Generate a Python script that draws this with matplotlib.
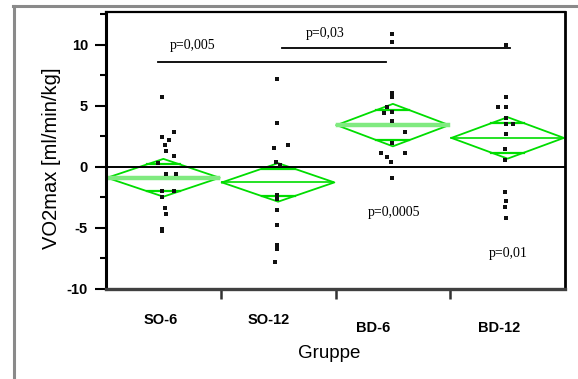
import numpy as np
import matplotlib
matplotlib.use('Agg')
from matplotlib import pyplot as plt
from matplotlib.lines import Line2D
import matplotlib.transforms as mtransforms

plt.rcParams['axes.unicode_minus'] = False

# groups and values
groups = ['SO-6', 'SO-12', 'BD-6', 'BD-12']

so6 = [5.7, 2.8, 2.4, 2.2, 1.8, 1.3, 0.9, 0.3, -0.6, -0.6, -2.0, -2.0, -2.5, -3.4, -3.9, -5.1, -5.3]
so6_jit = [0, 0.10, 0, 0.06, 0.02, 0.03, 0.10, -0.04, 0.03, 0.12, 0, 0.10, 0, 0.02, 0.03, 0, 0]
so12 = [7.2, 3.6, 1.8, 1.5, 0.4, 0.1, -2.3, -2.7, -3.6, -4.8, -6.4, -6.8, -7.8]
so12_jit = [0, 0, 0.10, -0.03, -0.01, 0.03, 0, 0, 0, 0, 0, 0, -0.02]
bd6 = [10.9, 10.2, 6.0, 5.7, 4.9, 4.5, 4.4, 3.7, 2.8, 1.9, 1.1, 1.1, 0.8, 0.4, -0.9]
bd6_jit = [0, 0, 0, 0, -0.04, 0, -0.07, 0, 0.12, 0, -0.09, 0.12, -0.04, -0.01, 0]
bd12 = [10.0, 5.7, 4.85, 4.85, 4.0, 3.5, 3.5, 2.7, 1.4, 0.5, -2.1, -2.8, -3.3, -4.2]
bd12_jit = [0, 0, -0.07, 0, 0, 0, 0.06, 0, -0.01, -0.01, -0.01, 0, -0.01, 0]

# means diamonds (mean and 95% CI half width)
means = [-0.92, -1.3, 3.4, 2.35]
ci_half = [1.55, 1.58, 1.74, 1.7]

# significance brackets: (x start, x end, level)
brackets = [(0.45, 2.44, 8.6), (1.53, 3.52, 9.7)]
p_labels = ['p=0,005', 'p=0,03', 'p=0,0005', 'p=0,01']

data = [so6, so12, bd6, bd12]
jitter = [so6_jit, so12_jit, bd6_jit, bd12_jit]

fig = plt.figure(figsize=(5.78, 3.79), dpi=100)
ax = fig.add_axes([106/578, 1 - 288.5/379, (565-106)/578, (288.5-11.7)/379])

green = '#00dd00'
light_green = '#80ea80'
mean_styles = [(light_green, 3.2), (green, 1.2), (light_green, 3.2), (green, 1.2)]

for i in range(4):
    c = i + 0.5
    m = means[i]
    h = ci_half[i]
    # diamond
    ax.plot([i + 0.01, c, i + 0.99, c, i + 0.01], [m, m + h, m, m - h, m],
            color=green, lw=1.3, zorder=2)
    col, lw = mean_styles[i]
    ax.plot([i + 0.02, i + 0.98], [m, m], color=col, lw=lw, zorder=2)
    # overlap marks
    d = h / np.sqrt(2)
    w = 0.49 * (1 - 1 / np.sqrt(2))
    for s in (1, -1):
        ax.plot([c - w, c + w], [m + s * d, m + s * d], color=green, lw=1.6, zorder=2)
    # points
    xs = c - 0.01 + np.array(jitter[i])
    ax.plot(xs, data[i], 's', color='#111111', ms=2.8, mew=0, zorder=3)

ax.axhline(0, color='black', lw=1.4, zorder=2)

for x0, x1, yv in brackets:
    ax.plot([x0, x1], [yv, yv], color='black', lw=1.3)

tf = dict(family='Liberation Serif', fontsize=10, va='center', ha='left')
ax.text(0.56, 9.9, p_labels[0], **tf)
ax.text(1.74, 10.9, p_labels[1], **tf)
ax.text(2.28, -3.75, p_labels[2], **tf)
ax.text(3.34, -7.1, p_labels[3], **tf)

ax.set_xlim(0, 4)
ax.set_ylim(-10, 12.7)
ax.set_yticks([-10, -5, 0, 5, 10])
ax.set_yticks([-7.5, -2.5, 2.5, 7.5, 12.5], minor=True)
ax.set_xticks([1, 2, 3])
ax.set_xticklabels([])
ax.tick_params(axis='y', which='major', length=8, width=1.5, direction='out', pad=5,
               labelsize=10.5)
ax.tick_params(axis='y', which='minor', length=4, width=1.5, direction='out')
ax.tick_params(axis='x', which='major', length=7, width=1.8, direction='out', color='#333333')
for lab in ax.get_yticklabels():
    lab.set_fontweight('bold')
    lab.set_family('Liberation Sans')

ax.spines['left'].set_linewidth(2.2)
ax.spines['top'].set_linewidth(1.6)
ax.spines['right'].set_linewidth(2.0)
ax.spines['bottom'].set_linewidth(2.4)
ax.spines['bottom'].set_color('#404040')

# group labels under the axis
trans = mtransforms.blended_transform_factory(ax.transData, fig.transFigure)
label_x = [0.48, 1.42, 2.33, 3.43]
label_y = [320, 320, 328, 328]
for gx, gy, g in zip(label_x, label_y, groups):
    ax.text(gx, 1 - gy / 379, g, transform=trans, ha='center', va='center',
            fontsize=10.5, fontweight='bold', family='Liberation Sans')

fig.text(329/578, 1 - 353/379, 'Gruppe', ha='center', va='center', fontsize=13.5,
         family='Liberation Sans')
fig.text(52/578, 1 - 158/379, 'VO2max [ml/min/kg]', ha='center', va='center',
         rotation=90, fontsize=14.5, family='Liberation Sans')

# window frame
fig.add_artist(Line2D([13/578, 1], [1 - 6/379, 1 - 6/379], color='#8a8a8a', lw=2.2))
fig.add_artist(Line2D([14/578, 14/578], [0, 1 - 6/379], color='#8a8a8a', lw=2.2))

fig.savefig('out.png', dpi=100)
plt.close()
